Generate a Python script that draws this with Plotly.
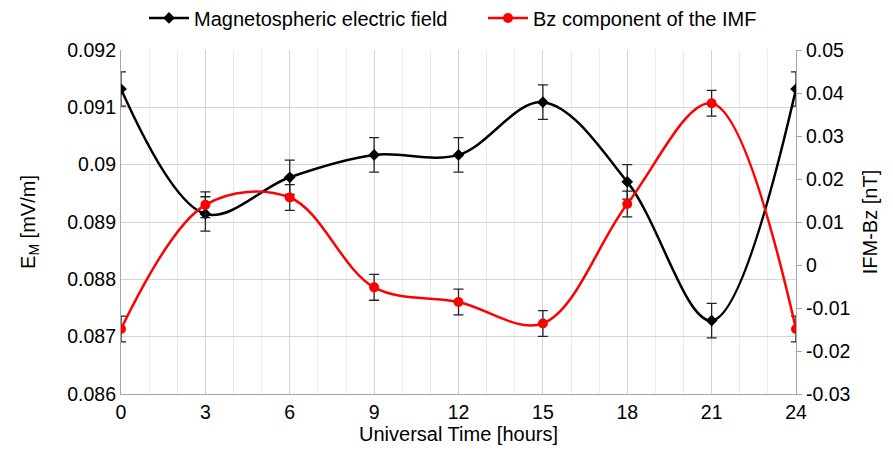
import plotly.graph_objects as go

hours = [0, 3, 6, 9, 12, 15, 18, 21, 24]
em_values = [0.09132, 0.08914, 0.08978, 0.09017, 0.09017, 0.09109, 0.0897, 0.08728, 0.09132]
em_err = [0.0003] * 9
bz_values = [-0.0149, 0.014, 0.0157, -0.0052, -0.0086, -0.0136, 0.0142, 0.0376, -0.0149]
bz_err = [0.003] * 9

font_family = "Arial, Liberation Sans, sans-serif"

fig = go.Figure()
fig.add_trace(go.Scatter(
    x=hours, y=em_values, name="Magnetospheric electric field",
    mode="lines+markers",
    line=dict(color="black", width=2.5, shape="spline", smoothing=1),
    marker=dict(symbol="diamond", size=9, color="black"),
    error_y=dict(type="data", array=em_err, color="#222222", thickness=1.3, width=5),
    yaxis="y", legend="legend",
))
fig.add_trace(go.Scatter(
    x=hours, y=bz_values, name="Bz component of the IMF",
    mode="lines+markers",
    line=dict(color="#ff0000", width=2.5, shape="spline", smoothing=1),
    marker=dict(symbol="circle", size=10, color="#ff0000"),
    error_y=dict(type="data", array=bz_err, color="#222222", thickness=1.3, width=5),
    yaxis="y2", legend="legend2",
))

legend_common = dict(orientation="h", xanchor="left", xref="container",
                     y=0.978, yanchor="middle", yref="container",
                     font=dict(size=20), itemwidth=40, bgcolor="rgba(0,0,0,0)")

fig.update_layout(
    width=893, height=451,
    margin=dict(l=113, r=105, t=42, b=65, autoexpand=False),
    paper_bgcolor="white", plot_bgcolor="white",
    font=dict(family=font_family, size=19.5, color="black"),
    showlegend=True,
    legend=dict(x=0.1523, **legend_common),
    legend2=dict(x=0.5319, **legend_common),
    xaxis=dict(
        range=[0, 24], tickvals=hours, ticktext=[str(h) for h in hours],
        showgrid=True, gridcolor="#d4d4d4", gridwidth=1.2,
        minor=dict(dtick=1, showgrid=True, gridcolor="#ebebeb", gridwidth=1),
        showline=True, linecolor="#a6a6a6", linewidth=1.2,
        zeroline=False, ticks="", automargin=False,
        title=dict(text="Universal Time [hours]", font=dict(size=20), standoff=0),
    ),
    yaxis=dict(
        range=[0.086, 0.092], tickvals=[0.086, 0.087, 0.088, 0.089, 0.09, 0.091, 0.092],
        ticktext=["0.086", "0.087", "0.088", "0.089", "0.09", "0.091", "0.092"],
        showgrid=True, gridcolor="#d4d4d4", gridwidth=1.2,
        showline=True, linecolor="#a6a6a6", linewidth=1.2,
        zeroline=False, ticks="", automargin=False,
        title=dict(text="E<sub>M</sub> [mV/m]", font=dict(size=20), standoff=26),
    ),
    yaxis2=dict(
        range=[-0.03, 0.05], overlaying="y", side="right",
        tickvals=[-0.03, -0.02, -0.01, 0, 0.01, 0.02, 0.03, 0.04, 0.05],
        ticktext=["-0.03", "-0.02", "-0.01", "0", "0.01", "0.02", "0.03", "0.04", "0.05"],
        showgrid=False, showline=True, linecolor="#a6a6a6", linewidth=1.2,
        zeroline=False, ticks="outside", ticklen=5, tickcolor="#a6a6a6", automargin=False,
        title=dict(text="IFM-Bz [nT]", font=dict(size=20), standoff=13),
    ),
)

fig.write_html("out.html")
